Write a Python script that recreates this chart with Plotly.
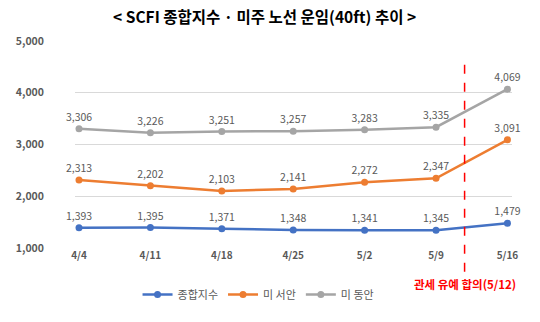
import plotly.graph_objects as go

dates = ["4/4", "4/11", "4/18", "4/25", "5/2", "5/9", "5/16"]
scfi = [1393, 1395, 1371, 1348, 1341, 1345, 1479]
us_west = [2313, 2202, 2103, 2141, 2272, 2347, 3091]
us_east = [3306, 3226, 3251, 3257, 3283, 3335, 4069]
series_names = ["종합지수", "미 서안", "미 동안"]
colors = ["#4472C4", "#ED7D31", "#A5A5A5"]
y_ticks = [1000, 2000, 3000, 4000, 5000]
event_pos = 5.4
event_label = "관세 유예 합의(5/12)"
title = "< SCFI 종합지수 · 미주 노선 운임(40ft) 추이 >"

FONT = "Noto Sans CJK KR"
xs = list(range(len(dates)))

fig = go.Figure()
for name, vals, c in zip(series_names, [scfi, us_west, us_east], colors):
    fig.add_trace(go.Scatter(
        x=xs, y=vals, name=name, mode="lines+markers+text",
        line=dict(color=c, width=2.5), marker=dict(color=c, size=7),
        text=[f"{v:,}" for v in vals], textposition="top center",
        textfont=dict(size=10.5, color="#595959", family=FONT),
        cliponaxis=False,
    ))

fig.add_shape(type="line", xref="x", yref="paper", x0=event_pos, x1=event_pos,
              y0=-0.115, y1=0.91, line=dict(color="#FF0000", width=1.5, dash="dash"))
fig.add_annotation(xref="x", yref="paper", x=event_pos, y=-0.175, text=f"<b>{event_label}</b>",
                   showarrow=False, font=dict(size=11.5, color="#FF0000", family=FONT),
                   xanchor="center", yanchor="middle")

fig.update_layout(
    width=540, height=322,
    margin=dict(l=75, r=28, t=41, b=74),
    paper_bgcolor="white", plot_bgcolor="white",
    title=dict(text=f"<b>{title}</b>", x=0.49, xanchor="center", y=0.945, yanchor="middle",
               font=dict(size=15.5, color="#000000", family=FONT)),
    showlegend=True,
    legend=dict(orientation="h", x=0.42, xanchor="center", y=-0.225, yanchor="middle",
                font=dict(size=11, color="#595959", family=FONT),
                itemwidth=30, tracegroupgap=0),
    xaxis=dict(tickmode="array", tickvals=xs, ticktext=[f"<b>{d}</b>" for d in dates],
               range=[-0.056, 6.064],
               showgrid=False, zeroline=False, showline=False, ticks="",
               tickfont=dict(size=10, color="#595959", family=FONT)),
    yaxis=dict(tickmode="array", tickvals=y_ticks, ticktext=[f"<b>{v:,}</b>" for v in y_ticks],
               range=[1000, 5000], showgrid=True, gridcolor="#D9D9D9", gridwidth=1,
               zeroline=False, showline=False, ticks="", ticklabelstandoff=30,
               tickfont=dict(size=10.5, color="#595959", family=FONT)),
)

fig.write_html("out.html")
